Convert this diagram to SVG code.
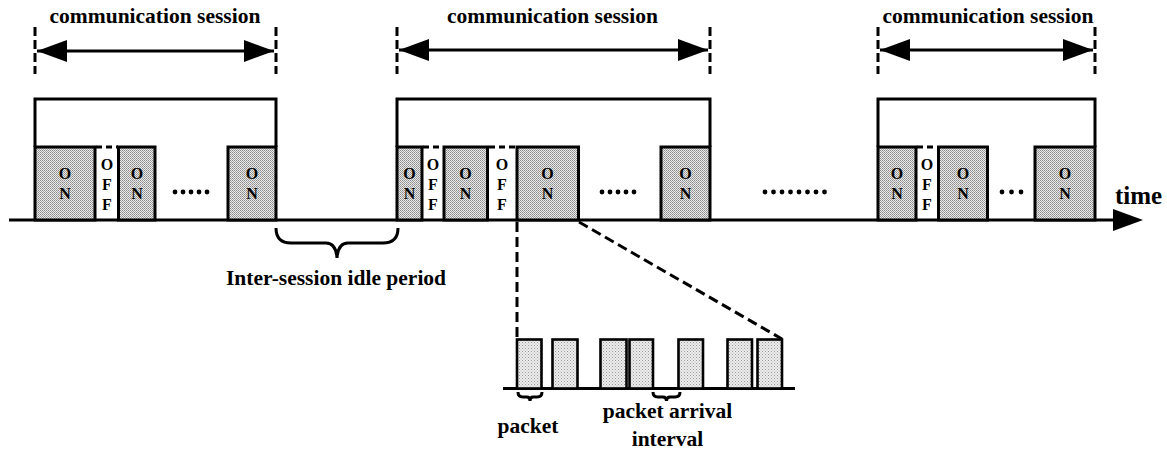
<svg xmlns="http://www.w3.org/2000/svg" width="1167" height="449" viewBox="0 0 1167 449">
<defs>
<pattern id="onfill" width="2" height="2" patternUnits="userSpaceOnUse">
<rect width="2" height="2" fill="#e8e8e8"/>
<rect x="0" y="0" width="1" height="1" fill="#8e8e8e"/>
<rect x="1" y="1" width="1" height="1" fill="#a4a4a4"/>
</pattern>
<pattern id="pkfill" width="3" height="3" patternUnits="userSpaceOnUse">
<rect width="3" height="3" fill="#ededed"/>
<rect x="0" y="0" width="1" height="1" fill="#9a9a9a"/>
<rect x="1.5" y="1.5" width="1" height="1" fill="#b0b0b0"/>
</pattern>
<marker id="ah" viewBox="0 0 30 22" refX="30" refY="11" markerWidth="30" markerHeight="22" markerUnits="userSpaceOnUse" orient="auto-start-reverse">
<path d="M0,0 L30,11 L0,22 Z" fill="#000"/>
</marker>
</defs>
<style>
.t{font-family:"Liberation Serif","Times New Roman",serif;font-weight:bold;fill:#000}
.lbl{font-size:21.5px;text-anchor:middle}
.on{fill:url(#onfill);stroke:#000;stroke-width:3}
.pk{fill:url(#pkfill);stroke:#000;stroke-width:2.6}
.ln{fill:none;stroke:#000;stroke-width:3}
.dash{fill:none;stroke:#000;stroke-width:3;stroke-dasharray:9 4}
.dsh2{fill:none;stroke:#000;stroke-width:3;stroke-dasharray:10 5}
.offtop{fill:none;stroke:#000;stroke-width:3;stroke-dasharray:6 4}
.ch{font-size:16px;text-anchor:middle}
.dot{fill:#000}
</style>

<g id="connectors">
<line class="ln" x1="9" y1="220" x2="1114" y2="220"/>
<path d="M1113,209 L1143,220 L1113,231 Z" fill="#000"/>
<line class="dsh2" x1="517" y1="222" x2="517" y2="339"/>
<line class="dsh2" x1="579" y1="222" x2="782" y2="339"/>
</g>

<g id="session1">
<text class="t lbl" x="155" y="23">communication session</text>
<line class="dash" x1="35" y1="27" x2="35" y2="74"/>
<line class="dash" x1="276" y1="27" x2="276" y2="74"/>
<line class="ln" x1="37" y1="51" x2="274" y2="51" marker-start="url(#ah)" marker-end="url(#ah)"/>
<path class="ln" d="M35,147 V99 H276 V147"/>
<rect class="on" x="35" y="147" width="60" height="73"/>
<line class="offtop" x1="96" y1="147" x2="118" y2="147"/>
<rect class="on" x="118.5" y="147" width="36.5" height="73"/>
<rect class="on" x="228" y="147" width="48" height="73"/>
<text class="t ch" x="65" y="178.5">O</text><text class="t ch" x="65" y="198.5">N</text>
<text class="t ch" x="107" y="170">O</text><text class="t ch" x="107" y="190">F</text><text class="t ch" x="107" y="210">F</text>
<text class="t ch" x="137" y="178.5">O</text><text class="t ch" x="137" y="198.5">N</text>
<text class="t ch" x="252" y="178.5">O</text><text class="t ch" x="252" y="198.5">N</text>
<circle class="dot" cx="175" cy="192" r="2.4"/><circle class="dot" cx="183" cy="192" r="2.4"/><circle class="dot" cx="191" cy="192" r="2.4"/><circle class="dot" cx="199" cy="192" r="2.4"/><circle class="dot" cx="207" cy="192" r="2.4"/>
</g>

<g id="idle">
<path class="ln" d="M276,228 Q276,243 291,243 L326,243 Q336,243 337,258 Q338,243 348,243 L383,243 Q398,243 398,228"/>
<text class="t lbl" x="336" y="285">Inter-session idle period</text>
</g>

<g id="session2">
<text class="t lbl" x="552.5" y="23">communication session</text>
<line class="dash" x1="397" y1="27" x2="397" y2="74"/>
<line class="dash" x1="710" y1="27" x2="710" y2="74"/>
<line class="ln" x1="399" y1="50" x2="708" y2="50" marker-start="url(#ah)" marker-end="url(#ah)"/>
<path class="ln" d="M397,147 V99 H710 V147"/>
<rect class="on" x="397" y="147" width="25" height="73"/>
<line class="offtop" x1="423" y1="147" x2="443" y2="147"/>
<rect class="on" x="444" y="147" width="43.5" height="73"/>
<line class="offtop" x1="489" y1="147" x2="516" y2="147"/>
<rect class="on" x="517" y="147" width="61.5" height="73"/>
<rect class="on" x="661" y="147" width="49" height="73"/>
<text class="t ch" x="409.5" y="178.5">O</text><text class="t ch" x="409.5" y="198.5">N</text>
<text class="t ch" x="433" y="170">O</text><text class="t ch" x="433" y="190">F</text><text class="t ch" x="433" y="210">F</text>
<text class="t ch" x="465.5" y="178.5">O</text><text class="t ch" x="465.5" y="198.5">N</text>
<text class="t ch" x="502" y="170">O</text><text class="t ch" x="502" y="190">F</text><text class="t ch" x="502" y="210">F</text>
<text class="t ch" x="547.5" y="178.5">O</text><text class="t ch" x="547.5" y="198.5">N</text>
<text class="t ch" x="685.5" y="178.5">O</text><text class="t ch" x="685.5" y="198.5">N</text>
<circle class="dot" cx="602" cy="192" r="2.4"/><circle class="dot" cx="610" cy="192" r="2.4"/><circle class="dot" cx="618" cy="192" r="2.4"/><circle class="dot" cx="626" cy="192" r="2.4"/><circle class="dot" cx="634" cy="192" r="2.4"/>
</g>

<g id="between">
<circle class="dot" cx="765" cy="192" r="2.4"/><circle class="dot" cx="773.5" cy="192" r="2.4"/><circle class="dot" cx="782" cy="192" r="2.4"/><circle class="dot" cx="790.5" cy="192" r="2.4"/><circle class="dot" cx="799" cy="192" r="2.4"/><circle class="dot" cx="807.5" cy="192" r="2.4"/><circle class="dot" cx="816" cy="192" r="2.4"/><circle class="dot" cx="824.5" cy="192" r="2.4"/>
</g>

<g id="session3">
<text class="t lbl" x="988" y="23">communication session</text>
<line class="dash" x1="878" y1="27" x2="878" y2="74"/>
<line class="dash" x1="1095" y1="27" x2="1095" y2="74"/>
<line class="ln" x1="880" y1="50" x2="1093" y2="50" marker-start="url(#ah)" marker-end="url(#ah)"/>
<path class="ln" d="M878,147 V99 H1095 V147"/>
<rect class="on" x="878" y="147" width="38" height="73"/>
<line class="offtop" x1="917" y1="147" x2="937" y2="147"/>
<rect class="on" x="938.5" y="147" width="49" height="73"/>
<rect class="on" x="1035" y="147" width="60" height="73"/>
<text class="t ch" x="897" y="178.5">O</text><text class="t ch" x="897" y="198.5">N</text>
<text class="t ch" x="927" y="170">O</text><text class="t ch" x="927" y="190">F</text><text class="t ch" x="927" y="210">F</text>
<text class="t ch" x="963" y="178.5">O</text><text class="t ch" x="963" y="198.5">N</text>
<text class="t ch" x="1065" y="178.5">O</text><text class="t ch" x="1065" y="198.5">N</text>
<circle class="dot" cx="1002" cy="192" r="2.4"/><circle class="dot" cx="1011.5" cy="192" r="2.4"/><circle class="dot" cx="1021" cy="192" r="2.4"/>
</g>

<g id="time-label">
<text class="t" x="1115" y="204" font-size="25">time</text>
</g>

<g id="packets">
<line class="ln" x1="503" y1="388.5" x2="795" y2="388.5"/>
<rect class="pk" x="517" y="339.5" width="24.5" height="49"/>
<rect class="pk" x="552.5" y="339.5" width="25" height="49"/>
<rect class="pk" x="600.5" y="339.5" width="26" height="49"/>
<rect class="pk" x="629.5" y="339.5" width="23.5" height="49"/>
<rect class="pk" x="678.5" y="339.5" width="24.5" height="49"/>
<rect class="pk" x="727.5" y="339.5" width="24.5" height="49"/>
<rect class="pk" x="757.5" y="339.5" width="24.5" height="49"/>
<path class="ln" stroke-width="2.5" d="M518,392 Q518,397 523,397 L527,397 Q530,397 530,401 Q530,397 533,397 L537,397 Q542,397 542,392"/>
<path class="ln" stroke-width="2.5" d="M653,392 Q653,397 658,397 L663,397 Q666.5,397 666.5,401 Q666.5,397 670,397 L675,397 Q680,397 680,392"/>
<text class="t lbl" x="528" y="433">packet</text>
<text class="t lbl" x="667.5" y="418">packet arrival</text>
<text class="t lbl" x="667.5" y="446">interval</text>
</g>
</svg>
